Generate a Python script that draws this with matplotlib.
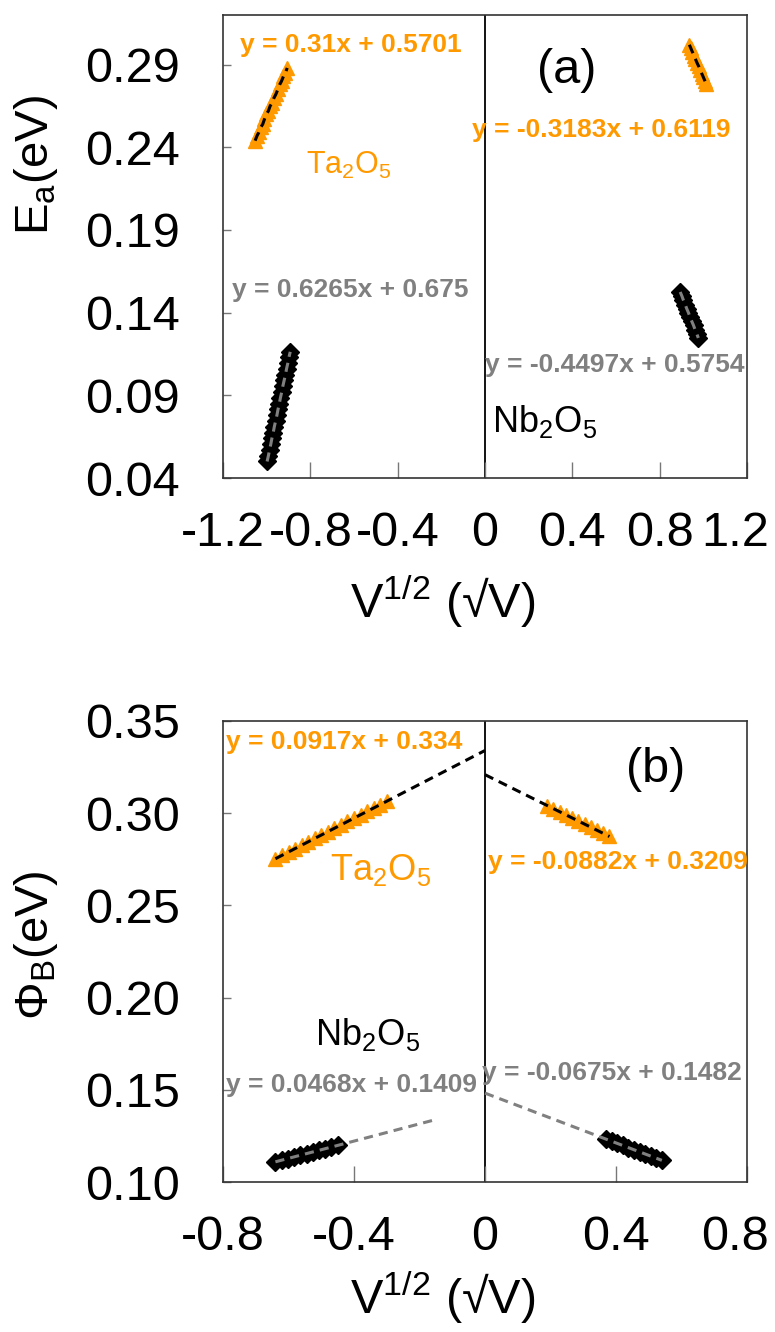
import matplotlib.pyplot as plt
from matplotlib.transforms import ScaledTranslation

plt.rcParams['font.family'] = ['Liberation Sans', 'DejaVu Sans']
plt.rcParams['mathtext.fontset'] = 'custom'
plt.rcParams['mathtext.rm'] = 'Liberation Sans'
plt.rcParams['mathtext.it'] = 'Liberation Sans:italic'
plt.rcParams['mathtext.bf'] = 'Liberation Sans:bold'

ORANGE = '#FF9900'
GRAY = '#808080'

# ---- panel (a) data: Ea vs V^1/2
a_ta_left_x = [-1.053, -1.044, -1.036, -1.027, -1.018, -1.010, -1.001, -0.992, -0.984,
               -0.975, -0.966, -0.958, -0.949, -0.940, -0.932, -0.923, -0.914, -0.906]
a_ta_left_y = [0.244, 0.247, 0.249, 0.252, 0.254, 0.257, 0.260, 0.262, 0.265,
               0.267, 0.270, 0.272, 0.275, 0.278, 0.280, 0.283, 0.285, 0.288]
a_nb_left_x = [-0.998, -0.992, -0.987, -0.981, -0.976, -0.970, -0.965, -0.959, -0.953, -0.948,
               -0.942, -0.937, -0.931, -0.926, -0.920, -0.914, -0.909, -0.903, -0.898, -0.892]
a_nb_left_y = [0.050, 0.0535, 0.057, 0.0605, 0.064, 0.0675, 0.071, 0.0745, 0.078, 0.0815,
               0.085, 0.0885, 0.092, 0.0955, 0.099, 0.1025, 0.106, 0.1095, 0.113, 0.1163]
a_ta_right_x = [0.936, 0.943, 0.950, 0.957, 0.964, 0.971, 0.979, 0.986, 0.993, 1.000, 1.007, 1.014]
a_ta_right_y = [0.302, 0.2998, 0.2976, 0.2955, 0.2933, 0.2911, 0.2889, 0.2867, 0.2845, 0.2824, 0.2802, 0.278]
a_nb_right_x = [0.894, 0.902, 0.909, 0.917, 0.924, 0.932, 0.939, 0.947, 0.955, 0.962, 0.970, 0.977]
a_nb_right_y = [0.1525, 0.1500, 0.1474, 0.1449, 0.1424, 0.1399, 0.1373, 0.1348, 0.1323, 0.1298, 0.1272, 0.1247]

# ---- panel (b) data: PhiB vs V^1/2
b_ta_left_x = [-0.64, -0.62, -0.60, -0.58, -0.56, -0.54, -0.52, -0.50, -0.48,
               -0.46, -0.44, -0.42, -0.40, -0.38, -0.36, -0.34, -0.32, -0.30]
b_ta_left_y = [0.2753, 0.2771, 0.2790, 0.2808, 0.2826, 0.2845, 0.2863, 0.2882, 0.2900,
               0.2918, 0.2937, 0.2955, 0.2973, 0.2992, 0.3010, 0.3028, 0.3047, 0.3065]
b_ta_right_x = [0.19, 0.209, 0.228, 0.247, 0.266, 0.285, 0.304, 0.323, 0.342, 0.361, 0.38]
b_ta_right_y = [0.3041, 0.3025, 0.3008, 0.2991, 0.2974, 0.2958, 0.2941, 0.2924, 0.2907, 0.2891, 0.2874]
b_nb_left_x = [-0.64, -0.621, -0.602, -0.583, -0.564, -0.545, -0.526, -0.507, -0.488, -0.469, -0.45]
b_nb_left_y = [0.1109, 0.1118, 0.1127, 0.1136, 0.1145, 0.1154, 0.1163, 0.1172, 0.1181, 0.1190, 0.1198]
b_nb_right_x = [0.37, 0.387, 0.404, 0.421, 0.438, 0.455, 0.472, 0.489, 0.506, 0.523, 0.54]
b_nb_right_y = [0.1232, 0.1221, 0.1209, 0.1198, 0.1186, 0.1175, 0.1163, 0.1152, 0.1140, 0.1129, 0.1117]

# trendlines of panel (b): (slope, intercept, x range, colour)
b_trends = [
    (0.0917, 0.334, (-0.64, 0.0), 'black'),
    (-0.0882, 0.3209, (0.0, 0.38), 'black'),
    (0.0468, 0.1409, (-0.64, -0.15), GRAY),
    (-0.0675, 0.1482, (0.0, 0.54), GRAY),
]

a_xticks = [-1.2, -0.8, -0.4, 0, 0.4, 0.8, 1.2]
a_xticklabels = ['-1.2', '-0.8', '-0.4', '0', '0.4', '0.8', '1.2']
a_yticks = [0.04, 0.09, 0.14, 0.19, 0.24, 0.29]
b_xticks = [-0.8, -0.4, 0, 0.4, 0.8]
b_xticklabels = ['-0.8', '-0.4', '0', '0.4', '0.8']
b_yticks = [0.10, 0.15, 0.20, 0.25, 0.30, 0.35]

DASH = (0, (3, 2))
TICK_FS = 35
LABEL_FS = 35
EQ_FS = 19

fig = plt.figure(figsize=(7.75, 13.32), dpi=100)
ax1 = fig.add_axes([223 / 775, 1 - 478 / 1332, 524 / 775, 463 / 1332])
ax2 = fig.add_axes([223 / 775, 1 - 1182 / 1332, 524 / 775, 461 / 1332])


def ta(ax, x, y):
    ax.plot(x, y, ls='none', marker='^', ms=10, color=ORANGE, mec=ORANGE, zorder=3)


def nb(ax, x, y):
    ax.plot(x, y, ls='none', marker='D', ms=9.5, color='black', mec='black', zorder=3)


def style(ax):
    for s in ax.spines.values():
        s.set_color('#333333')
        s.set_linewidth(1.2)
    ax.tick_params(axis='x', direction='in', length=11.5, width=1, color='#777777',
                   labelsize=TICK_FS, pad=24, top=False)
    ax.tick_params(axis='y', direction='in', length=6, width=1, color='#777777',
                   labelsize=TICK_FS, pad=31, right=False)
    ax.axvline(0, color='black', lw=1.3, zorder=1)
    # keep the last x label inside the figure
    last = ax.xaxis.get_major_ticks()[-1].label1
    last.set_transform(last.get_transform() + ScaledTranslation(-12 / 100, 0, fig.dpi_scale_trans))


# ---- panel (a)
ta(ax1, a_ta_left_x, a_ta_left_y)
ta(ax1, a_ta_right_x, a_ta_right_y)
nb(ax1, a_nb_left_x, a_nb_left_y)
nb(ax1, a_nb_right_x, a_nb_right_y)
ax1.plot(a_ta_left_x, a_ta_left_y, color='black', ls=DASH, lw=2.2, zorder=4)
ax1.plot(a_ta_right_x, a_ta_right_y, color='black', ls=DASH, lw=2.2, zorder=4)
ax1.plot(a_nb_left_x, a_nb_left_y, color=GRAY, ls=DASH, lw=2.2, zorder=4)
ax1.plot(a_nb_right_x, a_nb_right_y, color=GRAY, ls=DASH, lw=2.2, zorder=4)

ax1.set_xlim(-1.2, 1.2)
ax1.set_ylim(0.04, 0.32)
ax1.set_xticks(a_xticks)
ax1.set_xticklabels(a_xticklabels)
ax1.set_yticks(a_yticks)
ax1.set_yticklabels(['%.2f' % v for v in a_yticks])
style(ax1)
ax1.set_xlabel('V$^{1/2}$ (\u221aV)', fontsize=LABEL_FS)
ax1.xaxis.set_label_coords(0.42, -0.205)
ax1.set_ylabel('E$_{\\rm a}$(eV)', fontsize=LABEL_FS - 1)
ax1.yaxis.set_label_coords(-0.311, 0.676)

eq = dict(fontsize=EQ_FS, fontweight='bold', transform=ax1.transAxes, va='center', ha='left')
ax1.text(0.032, 0.935, 'y = 0.31x + 0.5701', color=ORANGE, **eq)
ax1.text(0.475, 0.752, 'y = -0.3183x + 0.6119', color=ORANGE, **eq)
ax1.text(0.017, 0.406, 'y = 0.6265x + 0.675', color=GRAY, **eq)
ax1.text(0.50, 0.244, 'y = -0.4497x + 0.5754', color=GRAY, **eq)
ax1.text(0.655, 0.881, '(a)', fontsize=35, ha='center', va='center', transform=ax1.transAxes)
ax1.text(0.158, 0.676, 'Ta$_2$O$_5$', fontsize=22, color=ORANGE, ha='left', va='center',
         transform=ax1.transAxes)
ax1.text(0.513, 0.121, 'Nb$_2$O$_5$', fontsize=26, color='black', ha='left', va='center',
         transform=ax1.transAxes)

# ---- panel (b)
ta(ax2, b_ta_left_x, b_ta_left_y)
ta(ax2, b_ta_right_x, b_ta_right_y)
nb(ax2, b_nb_left_x, b_nb_left_y)
nb(ax2, b_nb_right_x, b_nb_right_y)
for m, b, (x0, x1), c in b_trends:
    ax2.plot([x0, x1], [m * x0 + b, m * x1 + b], color=c, ls=DASH, lw=2.2, zorder=4)

ax2.set_xlim(-0.8, 0.8)
ax2.set_ylim(0.10, 0.35)
ax2.set_xticks(b_xticks)
ax2.set_xticklabels(b_xticklabels)
ax2.set_yticks(b_yticks)
ax2.set_yticklabels(['%.2f' % v for v in b_yticks])
style(ax2)
ax2.set_xlabel('V$^{1/2}$ (\u221aV)', fontsize=LABEL_FS)
ax2.xaxis.set_label_coords(0.42, -0.19)
ax2.set_ylabel('\u03a6$_{\\rm B}$(eV)', fontsize=LABEL_FS - 1)
ax2.yaxis.set_label_coords(-0.311, 0.514)

eq['transform'] = ax2.transAxes
ax2.text(0.006, 0.954, 'y = 0.0917x + 0.334', color=ORANGE, **eq)
ax2.text(0.506, 0.694, 'y = -0.0882x + 0.3209', color=ORANGE, **eq)
ax2.text(0.006, 0.21, 'y = 0.0468x + 0.1409', color=GRAY, **eq)
ax2.text(0.494, 0.236, 'y = -0.0675x + 0.1482', color=GRAY, **eq)
ax2.text(0.826, 0.894, '(b)', fontsize=35, ha='center', va='center', transform=ax2.transAxes)
ax2.text(0.204, 0.677, 'Ta$_2$O$_5$', fontsize=26, color=ORANGE, ha='left', va='center',
         transform=ax2.transAxes)
ax2.text(0.176, 0.319, 'Nb$_2$O$_5$', fontsize=26, color='black', ha='left', va='center',
         transform=ax2.transAxes)

fig.savefig('out.png', dpi=100)
